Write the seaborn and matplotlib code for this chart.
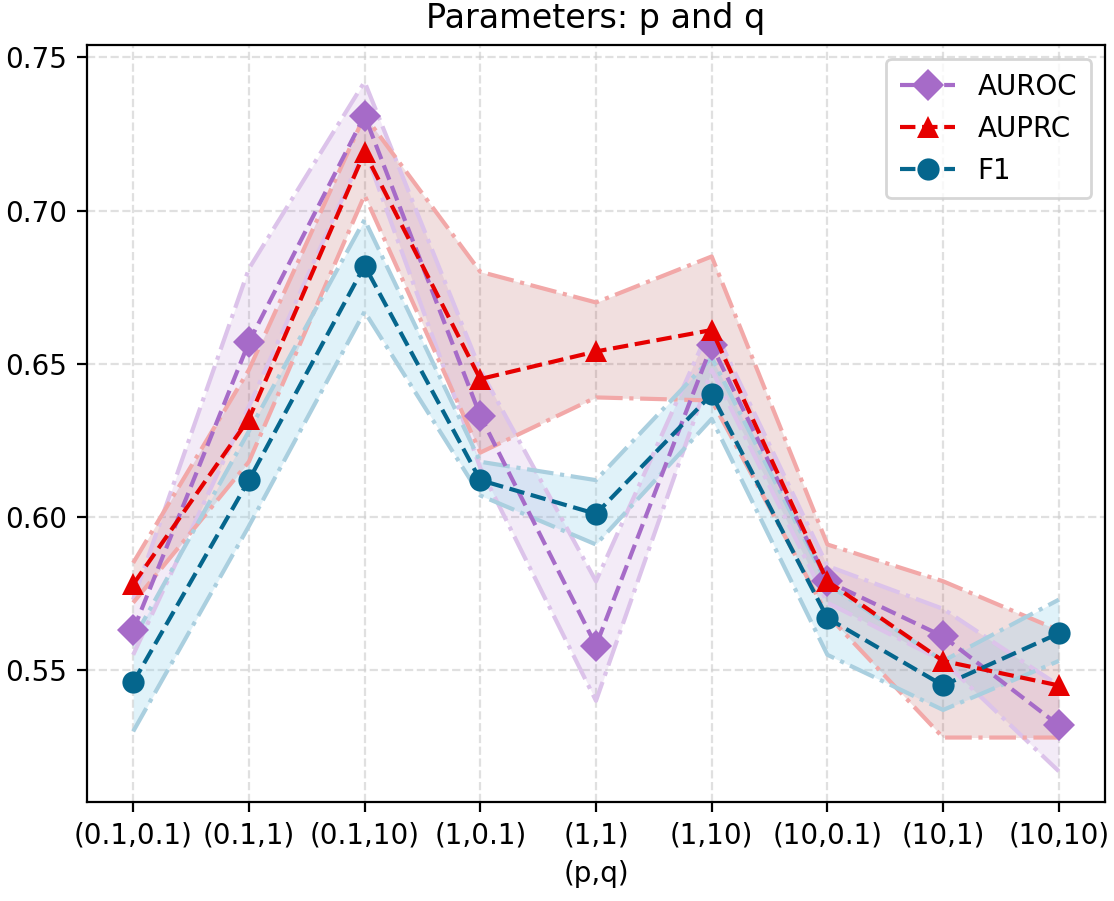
import numpy as np
import pandas as pd
import seaborn as sns
import matplotlib
matplotlib.use("Agg")
import matplotlib.pyplot as plt

# --- data ---
pq_labels = ['(0.1,0.1)', '(0.1,1)', '(0.1,10)', '(1,0.1)', '(1,1)',
             '(1,10)', '(10,0.1)', '(10,1)', '(10,10)']

auroc_mean = [0.563, 0.657, 0.731, 0.633, 0.558, 0.656, 0.579, 0.561, 0.532]
auroc_hi = [0.573, 0.681, 0.742, 0.648, 0.579, 0.663, 0.584, 0.570, 0.545]
auroc_lo = [0.555, 0.636, 0.720, 0.616, 0.540, 0.648, 0.572, 0.553, 0.517]

auprc_mean = [0.578, 0.632, 0.719, 0.645, 0.654, 0.661, 0.579, 0.553, 0.545]
auprc_hi = [0.585, 0.648, 0.731, 0.680, 0.670, 0.685, 0.591, 0.579, 0.563]
auprc_lo = [0.572, 0.618, 0.705, 0.621, 0.639, 0.638, 0.568, 0.528, 0.528]

f1_mean = [0.546, 0.612, 0.682, 0.612, 0.601, 0.640, 0.567, 0.545, 0.562]
f1_hi = [0.560, 0.628, 0.697, 0.618, 0.612, 0.652, 0.578, 0.553, 0.573]
f1_lo = [0.530, 0.597, 0.667, 0.607, 0.591, 0.632, 0.555, 0.537, 0.553]

metrics = ['AUROC', 'AUPRC', 'F1']
line_colors = {'AUROC': '#a66bc8', 'AUPRC': '#e60000', 'F1': '#05668d'}
fill_colors = {'AUROC': '#a66bc8', 'AUPRC': '#a52a2a', 'F1': '#87ceeb'}
fill_alpha = {'AUROC': 0.13, 'AUPRC': 0.15, 'F1': 0.25}
bound_colors = {'AUROC': '#dcc3ea', 'AUPRC': '#f2a8a8', 'F1': '#aacfdf'}
marker_map = {'AUROC': 'D', 'AUPRC': '^', 'F1': 'o'}

series = {
    'AUROC': (auroc_mean, auroc_lo, auroc_hi),
    'AUPRC': (auprc_mean, auprc_lo, auprc_hi),
    'F1': (f1_mean, f1_lo, f1_hi),
}

sns.set_style('white')
plt.rcParams['font.family'] = ['DejaVu Sans']
plt.rcParams['text.color'] = 'black'
plt.rcParams['axes.labelcolor'] = 'black'
plt.rcParams['xtick.color'] = 'black'
plt.rcParams['ytick.color'] = 'black'

fig, ax = plt.subplots(figsize=(5.57, 4.505), dpi=200)
x = np.arange(len(pq_labels))

# shaded bands + their edges
for m in metrics:
    mean, lo, hi = series[m]
    ax.fill_between(x, lo, hi, color=fill_colors[m], alpha=fill_alpha[m],
                    linewidth=0, zorder=1)
    ax.plot(x, hi, linestyle='-.', color=bound_colors[m], lw=1.5, zorder=2)
    ax.plot(x, lo, linestyle='-.', color=bound_colors[m], lw=1.5, zorder=2)

# mean lines
for m in metrics:
    mean, lo, hi = series[m]
    df = pd.DataFrame({'pos': x, 'value': mean})
    sns.lineplot(data=df, x='pos', y='value', ax=ax, color=line_colors[m],
                 marker=marker_map[m], markersize=8, markeredgewidth=0,
                 linestyle='--', lw=1.5, label=m, zorder=3)

ax.set_xticks(x)
ax.set_xticklabels(pq_labels)
ax.set_xlim(-0.4, 8.4)
ax.set_ylim(0.507, 0.754)
ax.set_yticks([0.55, 0.60, 0.65, 0.70, 0.75])
ax.set_xlabel('(p,q)')
ax.set_ylabel('')
ax.set_title('Parameters: p and q')
ax.grid(True, linestyle='--', color='#cccccc', alpha=0.6, lw=0.8)
ax.tick_params(direction='out', length=3.5, width=0.8, bottom=True, left=True)
for sp in ax.spines.values():
    sp.set_color('black')
    sp.set_linewidth(0.8)

ax.legend(loc='upper right', frameon=True, fontsize=10, borderpad=0.5)

plt.subplots_adjust(left=0.078, right=0.992, top=0.95, bottom=0.11)
plt.savefig('out.png', dpi=200)
